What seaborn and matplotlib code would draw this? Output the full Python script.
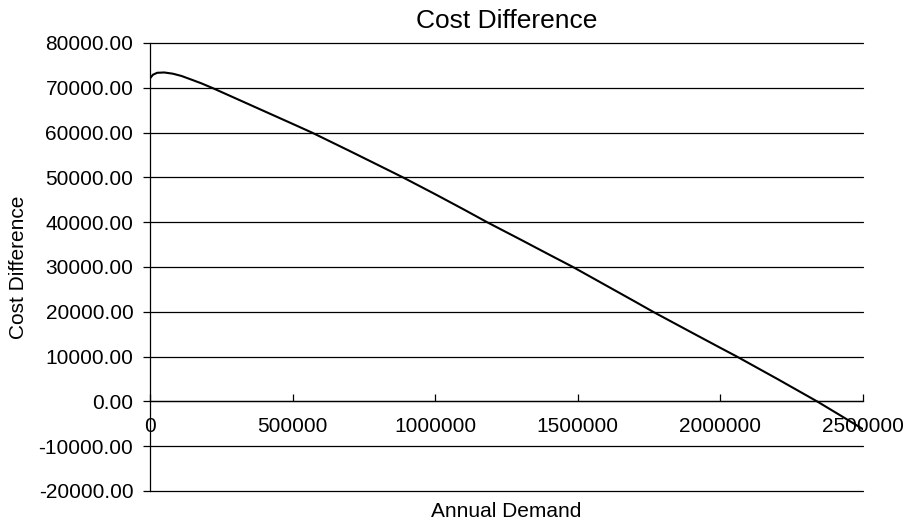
# Librerias
import numpy as np
import pandas as pd
import matplotlib
matplotlib.use("Agg")
import matplotlib.pyplot as plt
import seaborn as sns
from matplotlib.ticker import FuncFormatter

# --------- Datos
demanda = [0, 10000, 25000, 50000, 80000, 110000, 140000, 180000, 221000,
           300000, 400000, 500000, 568000, 700000, 800000, 887000,
           1000000, 1100000, 1182000, 1300000, 1400000, 1483000,
           1600000, 1700000, 1764000, 1900000, 2000000, 2058000,
           2200000, 2339000, 2420000, 2500000]
diferencia = [72100, 72900, 73350, 73420, 73150, 72650, 71950, 71000, 69900,
              67650, 64800, 61950, 60000, 55900, 52750, 50000,
              46250, 42850, 40000, 36100, 32750, 30000,
              25850, 22300, 20000, 15350, 11950, 10000,
              5000, 0, -3100, -6200]
y_ticks = [-20000, -10000, 0, 10000, 20000, 30000, 40000, 50000, 60000, 70000, 80000]
x_ticks = [0, 500000, 1000000, 1500000, 2000000, 2500000]

datos = pd.DataFrame({'Annual Demand': demanda, 'Cost Difference': diferencia})

sns.set_style("white")
plt.rcParams['font.family'] = ['Liberation Sans', 'DejaVu Sans']
plt.rcParams['text.color'] = 'black'
plt.rcParams['axes.labelcolor'] = 'black'

fig = plt.figure(figsize=(9.06, 5.27), dpi=100)
ax = fig.add_axes([150 / 906, 36 / 527, 713 / 906, 448 / 527])

sns.lineplot(x='Annual Demand', y='Cost Difference', data=datos, color='black',
             linewidth=1.5, ax=ax)

ax.set_xlim(0, 2500000)
ax.set_ylim(-20000, 80000)
ax.set_yticks(y_ticks)
ax.set_xticks(x_ticks)
ax.yaxis.set_major_formatter(FuncFormatter(lambda v, _: f'{v:.2f}'))
ax.xaxis.set_major_formatter(FuncFormatter(lambda v, _: f'{v:.0f}'))

# lineas horizontales
for yv in y_ticks:
    ax.axhline(yv, color='black', linewidth=0.9, zorder=0, clip_on=False)

# ejes estilo Excel
for s in ['top', 'right']:
    ax.spines[s].set_visible(False)
ax.spines['left'].set_color('black')
ax.spines['left'].set_linewidth(0.9)
ax.spines['bottom'].set_position(('data', 0))
ax.spines['bottom'].set_color('black')
ax.spines['bottom'].set_linewidth(0.9)

ax.tick_params(axis='y', direction='out', length=5, width=0.9, pad=7,
               labelsize=15, left=True, colors='black')
ax.tick_params(axis='x', direction='in', length=5, width=0.9, pad=11.5,
               labelsize=15, bottom=True, colors='black')

ax.set_title('Cost Difference', fontsize=19, pad=10.8, color='black')
ax.set_xlabel('Annual Demand', fontsize=15)
ax.set_ylabel('Cost Difference', fontsize=15)
ax.xaxis.set_label_coords(0.5, -0.025)
ax.yaxis.set_label_coords(-0.171, 0.5)

plt.savefig('out.png', dpi=100)
